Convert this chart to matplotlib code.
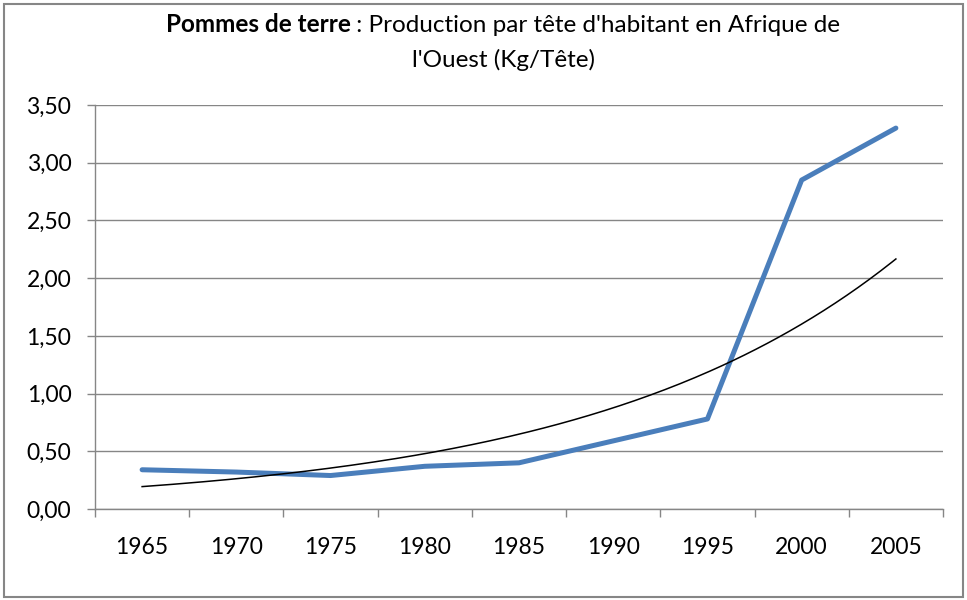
import numpy as np
import matplotlib.pyplot as plt
from matplotlib.patches import Rectangle

# Données
annees = ['1965', '1970', '1975', '1980', '1985', '1990', '1995', '2000', '2005']
production = [0.34, 0.32, 0.29, 0.37, 0.40, 0.59, 0.78, 2.85, 3.30]
graduations_y = [0.0, 0.5, 1.0, 1.5, 2.0, 2.5, 3.0, 3.5]

plt.rcParams['font.family'] = ['Lato', 'DejaVu Sans']

fig = plt.figure(figsize=(9.67, 6.0), dpi=100)
ax = fig.add_axes([95 / 967, 1 - 509 / 600, (943 - 95) / 967, (509 - 105) / 600])

x = np.arange(1, len(annees) + 1)

# Courbe de tendance exponentielle (comme Excel)
coef = np.polyfit(x, np.log(production), 1)
xt = np.linspace(1, len(annees), 200)
tendance = np.exp(coef[1]) * np.exp(coef[0] * xt)

ax.plot(x, production, color='#4a7ebb', lw=3.6, solid_capstyle='round',
        solid_joinstyle='round', zorder=3)
ax.plot(xt, tendance, color='black', lw=1.1, zorder=4)

ax.set_xlim(0.5, len(annees) + 0.5)
ax.set_ylim(0, 3.5)

gris = '#868686'
ax.set_yticks(graduations_y)
ax.set_yticklabels([f'{v:.2f}'.replace('.', ',') for v in graduations_y])
ax.set_xticks(np.arange(0.5, len(annees) + 1, 1))
ax.set_xticklabels([])
ax.set_xticks(x, minor=True)
ax.set_xticklabels(annees, minor=True)

ax.tick_params(axis='x', which='major', length=5.5, color=gris, width=1)
ax.tick_params(axis='x', which='minor', length=0, labelsize=16.5, pad=20)
ax.tick_params(axis='y', length=6, color=gris, width=1, labelsize=16.5, pad=11)

ax.grid(axis='y', color=gris, lw=1)
ax.set_axisbelow(True)
for s in ['top', 'right']:
    ax.spines[s].set_visible(False)
for s in ['left', 'bottom']:
    ax.spines[s].set_color(gris)
    ax.spines[s].set_linewidth(1)

# Titre : partie grasse + partie normale
fig.canvas.draw()
r = fig.canvas.get_renderer()
t1 = fig.text(0, 1 - 25 / 600, 'Pommes de terre', fontsize=17.5, fontweight='bold',
              ha='left', va='center')
t2 = fig.text(0, 1 - 25 / 600, " : Production par tête d'habitant en Afrique de",
              fontsize=17.5, ha='left', va='center')
w1 = t1.get_window_extent(r).width
w2 = t2.get_window_extent(r).width
gauche = 503 - (w1 + w2) / 2
t1.set_x(gauche / 967)
t2.set_x((gauche + w1) / 967)
fig.text(503 / 967, 1 - 60 / 600, "l'Ouest (Kg/Tête)", fontsize=17.5,
         ha='center', va='center')

fig.patches.append(Rectangle((4 / 967, 3 / 600), 959 / 967, 593 / 600,
                             transform=fig.transFigure, fill=False,
                             edgecolor=gris, lw=1.5))

fig.savefig('out.png', dpi=100)
